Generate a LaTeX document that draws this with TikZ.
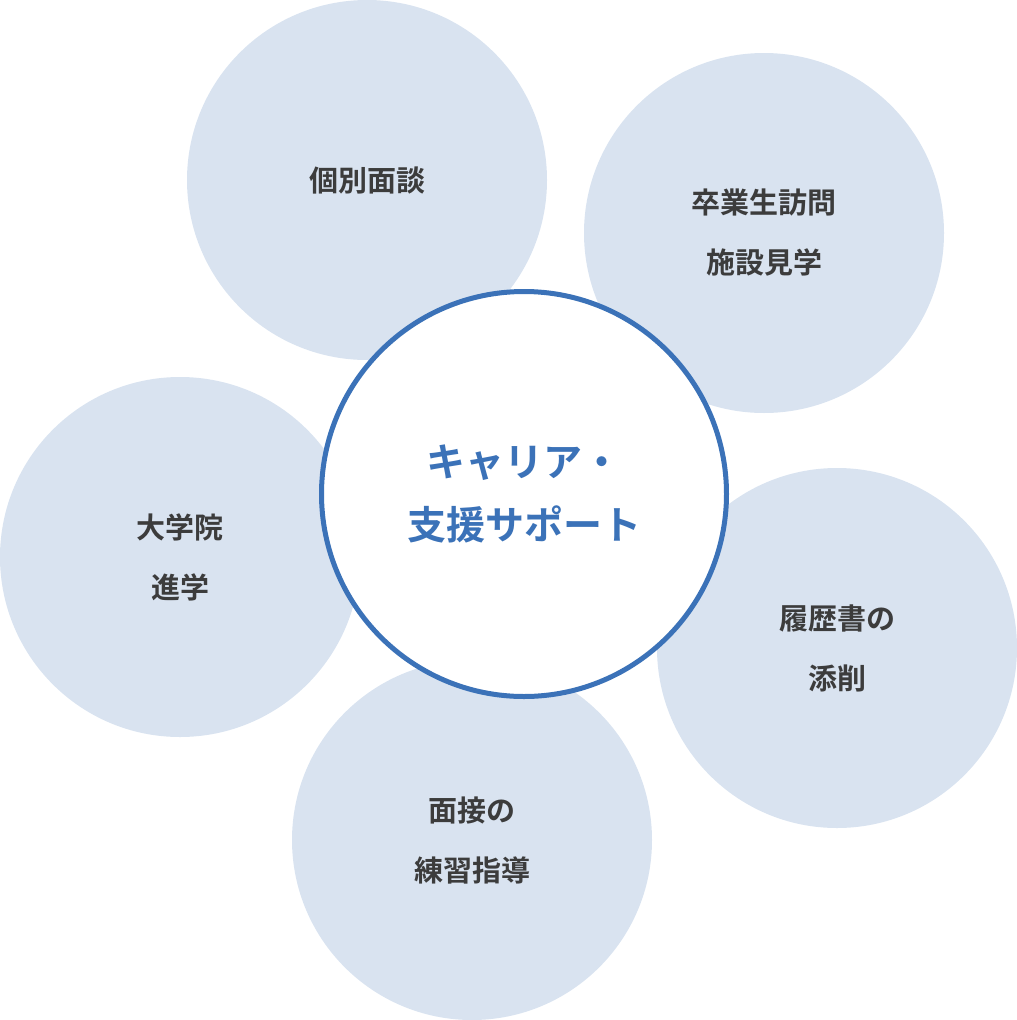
\documentclass[tikz,border=0pt]{standalone}
\usepackage{fontspec}
\newfontfamily\cjk{Noto Sans CJK JP Bold}
\definecolor{light}{HTML}{D9E3F0}
\definecolor{blue}{HTML}{3B72B8}
\definecolor{txt}{HTML}{3C3C3C}
\tikzset{
  sat/.style={circle,fill=light,minimum size=360pt,inner sep=0pt,align=center,text=txt,font=\cjk\fontsize{29pt}{60pt}\selectfont},
  hub/.style={circle,fill=white,draw=blue,line width=5pt,minimum size=405pt,inner sep=0pt,align=center,text=blue,font=\cjk\fontsize{39pt}{63pt}\selectfont}
}
\begin{document}
\begin{tikzpicture}[x=1pt,y=-1pt]
\useasboundingbox (0,0) rectangle (1017,1020);
\node[sat] (a) at (367,180) {個別面談};
\node[sat] (b) at (764,233) {卒業生訪問\\施設見学};
\node[sat] (c) at (180,557) {大学院\\進学};
\node[sat] (d) at (837,648) {履歴書の\\添削};
\node[sat] (e) at (472,840) {面接の\\練習指導};
\node[hub] (h) at (524,494) {キャリア・\\支援サポート};
\end{tikzpicture}
\end{document}
